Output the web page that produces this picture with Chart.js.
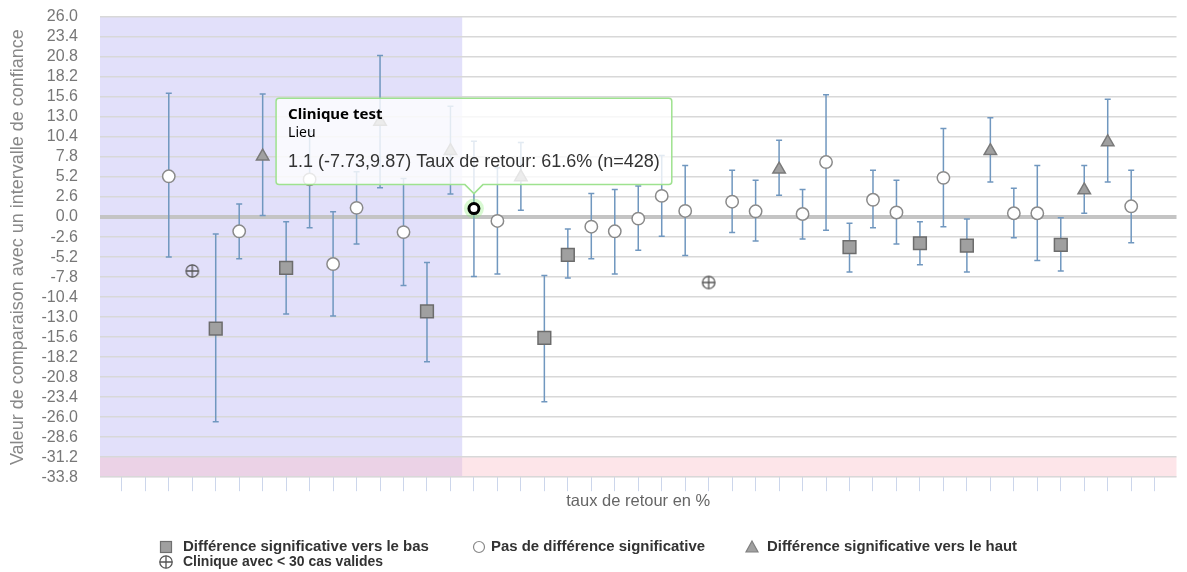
<!DOCTYPE html>
<html>
<head>
<meta charset="utf-8">
<script src="https://cdn.jsdelivr.net/npm/chart.js@4/dist/chart.umd.min.js"></script>
<style>
  body { margin: 0; background: #fff; }
  #wrap { width: 1187px; height: 572px; position: relative; }
</style>
</head>
<body>
<div id="wrap"><canvas id="chart-comparaison"></canvas></div>
<script>
// Valeurs de comparaison par clinique (position = rang sur l'axe du taux de retour)
const values = [null, null, 5.3, -7.0, -14.5, -1.85, 7.9, -6.6, 4.9, -6.1, 1.2, 12.4, -1.95, -12.25, 8.6,
  1.1, -0.5, 5.2, -15.7, -4.9, -1.25, -1.85, -0.2, 2.75, 0.8, -8.5, 2.0, 0.75, 6.2, 0.4, 7.15,
  -3.9, 2.25, 0.6, -3.4, 5.1, -3.7, 8.6, 0.5, 0.5, -3.6, 3.5, 9.75, 1.4, null];
const lower = [null, null, -5.2, null, -26.6, -5.4, 0.2, -12.6, -1.4, -12.85, -3.5, 3.8, -8.9, -18.8, 3.0,
  -7.73, -7.4, 0.9, -24.0, -7.9, -5.4, -7.4, -4.3, -2.5, -5.0, null, -2.0, -3.1, 2.85, -2.85, -1.7,
  -7.15, -1.4, -3.5, -6.2, -1.25, -7.15, 4.55, -2.7, -5.65, -7.0, 0.5, 4.55, -3.35, null];
const upper = [null, null, 16.1, null, -2.2, 1.7, 16.0, -0.6, 11.2, 0.7, 5.9, 21.0, 5.0, -5.9, 14.4,
  9.87, 6.4, 9.7, -7.6, -1.55, 3.05, 3.6, 4.05, 8.0, 6.7, null, 6.1, 4.8, 10.0, 3.6, 15.9,
  -0.8, 6.1, 4.8, -0.6, 11.5, -0.25, 12.9, 3.75, 6.7, -0.1, 6.7, 15.3, 6.1, null];
// b = vers le bas, n = pas de différence, h = vers le haut, c = < 30 cas
const groups = ['', '', 'n', 'c', 'b', 'n', 'h', 'b', 'n', 'n', 'n', 'h', 'n', 'b', 'h',
  'n', 'n', 'h', 'b', 'b', 'n', 'n', 'n', 'n', 'n', 'c', 'n', 'n', 'h', 'n', 'n',
  'b', 'n', 'n', 'b', 'n', 'b', 'h', 'n', 'n', 'b', 'h', 'h', 'n', ''];
const yTicks = [-33.8, -31.2, -28.6, -26.0, -23.4, -20.8, -18.2, -15.6, -13.0, -10.4, -7.8, -5.2, -2.6,
  0.0, 2.6, 5.2, 7.8, 10.4, 13.0, 15.6, 18.2, 20.8, 23.4, 26.0];
const xTicks = [0, 1, 2, 3, 4, 5, 6, 7, 8, 9, 10, 11, 12, 13, 14, 15, 16, 17, 18, 19, 20, 21, 22,
  23, 24, 25, 26, 27, 28, 29, 30, 31, 32, 33, 34, 35, 36, 37, 38, 39, 40, 41, 42, 43, 44];
const bandeRouge = [-33.8, -31.2];
const zoneGauche = 14.5;

const testIndex = 15;
const testTitre = 'Clinique test';
const testLieu = 'Lieu';
const testTexte = '1.1 (-7.73,9.87) Taux de retour: 61.6% (n=428)';

const legendItems = [
  { code: 'b', label: 'Différence significative vers le bas' },
  { code: 'n', label: 'Pas de différence significative' },
  { code: 'h', label: 'Différence significative vers le haut' },
  { code: 'c', label: 'Clinique avec < 30 cas valides' }
];

Chart.defaults.font.family = "'Liberation Sans', Arial, sans-serif";

function croixCercle() {
  const c = document.createElement('canvas');
  c.width = 16; c.height = 16;
  const g = c.getContext('2d');
  g.strokeStyle = '#555';
  g.lineWidth = 1.3;
  g.beginPath(); g.arc(8, 8, 6.2, 0, Math.PI * 2); g.stroke();
  g.beginPath(); g.moveTo(1.8, 8); g.lineTo(14.2, 8); g.moveTo(8, 1.8); g.lineTo(8, 14.2); g.stroke();
  return c;
}
const croix = croixCercle();

function pointsDe(code) {
  const pts = [];
  values.forEach((v, i) => { if (groups[i] === code) pts.push({ x: i, y: v }); });
  return pts;
}

const fondPlugin = {
  id: 'fond',
  beforeDraw(chart) {
    const { ctx, chartArea: a, scales: { x, y } } = chart;
    ctx.save();
    const xz = x.getPixelForValue(zoneGauche);
    ctx.fillStyle = '#e2e0fa';
    ctx.fillRect(a.left, a.top, xz - a.left, a.bottom - a.top);
    const y1 = y.getPixelForValue(bandeRouge[1]);
    const y0 = y.getPixelForValue(bandeRouge[0]);
    ctx.fillStyle = 'rgba(250,190,200,0.4)';
    ctx.fillRect(a.left, y1, a.right - a.left, y0 - y1);
    ctx.restore();
  }
};

const barresPlugin = {
  id: 'barres',
  beforeDatasetsDraw(chart) {
    const { ctx, scales: { x, y } } = chart;
    ctx.save();
    ctx.strokeStyle = '#7097bf';
    ctx.lineWidth = 1.5;
    values.forEach((v, i) => {
      if (lower[i] == null || upper[i] == null) return;
      const px = x.getPixelForValue(i);
      const yl = y.getPixelForValue(lower[i]);
      const yh = y.getPixelForValue(upper[i]);
      ctx.beginPath();
      ctx.moveTo(px, yl); ctx.lineTo(px, yh);
      ctx.moveTo(px - 3, yl); ctx.lineTo(px + 3, yl);
      ctx.moveTo(px - 3, yh); ctx.lineTo(px + 3, yh);
      ctx.stroke();
    });
    // halo autour du point actif
    chart.getActiveElements().forEach(a => {
      ctx.fillStyle = 'rgba(144,237,125,0.35)';
      ctx.beginPath();
      ctx.arc(a.element.x, a.element.y, 10, 0, Math.PI * 2);
      ctx.fill();
    });
    ctx.restore();
  }
};

const legendePlugin = {
  id: 'legende',
  afterDraw(chart) {
    const ctx = chart.ctx;
    // positions des symboles / textes, largeur du texte
    const places = [[166, 547, 183, 247], [479, 547, 491, 214], [752, 547, 767, 250], [166, 562, 183, 200]];
    ctx.save();
    ctx.font = "bold 15px 'Liberation Sans', Arial, sans-serif";
    ctx.textBaseline = 'middle';
    legendItems.forEach((item, i) => {
      const [sx, sy, tx, w] = places[i];
      ctx.lineWidth = 1.2;
      if (item.code === 'b') {
        ctx.fillStyle = '#a0a0a0'; ctx.strokeStyle = '#707070';
        ctx.fillRect(sx - 5.5, sy - 5.5, 11, 11); ctx.strokeRect(sx - 5.5, sy - 5.5, 11, 11);
      } else if (item.code === 'n') {
        ctx.fillStyle = '#fff'; ctx.strokeStyle = '#888';
        ctx.beginPath(); ctx.arc(sx, sy, 5.5, 0, Math.PI * 2); ctx.fill(); ctx.stroke();
      } else if (item.code === 'h') {
        ctx.fillStyle = '#a0a0a0'; ctx.strokeStyle = '#808080';
        ctx.beginPath(); ctx.moveTo(sx, sy - 6); ctx.lineTo(sx + 6, sy + 5); ctx.lineTo(sx - 6, sy + 5); ctx.closePath();
        ctx.fill(); ctx.stroke();
      } else {
        ctx.drawImage(croix, sx - 8, sy - 8);
      }
      ctx.fillStyle = '#333';
      ctx.fillText(item.label, tx, sy, w);
    });
    ctx.restore();
  }
};

const chart = new Chart(document.getElementById('chart-comparaison'), {
  type: 'scatter',
  data: {
    datasets: [
      {
        label: legendItems[0].label, data: pointsDe('b'),
        pointStyle: 'rect', pointRadius: 9, pointBorderWidth: 1.5,
        pointBackgroundColor: '#a0a0a0', pointBorderColor: '#6c6c6c'
      },
      {
        label: legendItems[1].label, data: pointsDe('n'),
        pointStyle: 'circle', pointRadius: 6.2, pointBorderWidth: 1.5,
        pointBackgroundColor: '#fff', pointBorderColor: '#8a8a8a',
        pointHoverRadius: 5, pointHoverBorderWidth: 3,
        pointHoverBorderColor: '#000', pointHoverBackgroundColor: '#fff'
      },
      {
        label: legendItems[2].label, data: pointsDe('h'),
        pointStyle: 'triangle', pointRadius: 7.2, pointBorderWidth: 1.5,
        pointBackgroundColor: '#a0a0a0', pointBorderColor: '#7a7a7a'
      },
      {
        label: legendItems[3].label, data: pointsDe('c'),
        pointStyle: croix, pointRadius: 7
      }
    ]
  },
  options: {
    responsive: true,
    maintainAspectRatio: false,
    animation: false,
    events: [],
    layout: { padding: { top: 17, right: 7, bottom: 61, left: 0 } },
    scales: {
      x: {
        type: 'linear',
        min: -0.93,
        max: 44.93,
        afterBuildTicks: axis => { axis.ticks = xTicks.map(v => ({ value: v })); },
        ticks: { display: false },
        grid: { drawOnChartArea: false, drawTicks: true, tickLength: 14, color: '#ccd6eb', lineWidth: 1 },
        border: { display: false },
        title: { display: true, text: 'taux de retour en %', color: '#666', font: { size: 16.5 }, padding: { top: 0, bottom: 0 } }
      },
      y: {
        min: -33.8,
        max: 26.0,
        afterBuildTicks: axis => { axis.ticks = yTicks.map(v => ({ value: v })); },
        afterFit: scale => { scale.width = 100; },
        ticks: { color: '#777', font: { size: 16 }, padding: 0, autoSkip: false, callback: v => v.toFixed(1) },
        grid: {
          drawTicks: true,
          tickLength: 22,
          tickColor: 'rgba(0,0,0,0)',
          color: ctx => ctx.tick && ctx.tick.value === 0 ? '#c4c4c4' : '#d8d8d8',
          lineWidth: ctx => ctx.tick && ctx.tick.value === 0 ? 4 : 1.5
        },
        border: { display: false },
        title: { display: true, text: 'Valeur de comparaison avec un intervalle de confiance', color: '#888', font: { size: 18 }, padding: { top: 7, bottom: 0 } }
      }
    },
    plugins: {
      legend: { display: false },
      tooltip: {
        enabled: true,
        backgroundColor: 'rgba(255,255,255,0.8)',
        borderColor: '#9ee28f',
        borderWidth: 1.5,
        cornerRadius: 3,
        caretSize: 9,
        caretPadding: 15,
        xAlign: 'center',
        yAlign: 'bottom',
        displayColors: false,
        padding: { top: 8, bottom: 12, left: 12, right: 12 },
        titleColor: '#000',
        titleFont: { family: "'Noto Sans', sans-serif", size: 15, weight: 'bold' },
        titleMarginBottom: 0,
        bodyColor: '#000',
        bodyFont: { family: "'Noto Sans', sans-serif", size: 14 },
        footerColor: '#333',
        footerFont: { size: 18, weight: 'normal' },
        footerMarginTop: 10,
        callbacks: {
          title: () => testTitre,
          label: () => testLieu,
          footer: () => testTexte
        }
      }
    }
  },
  plugins: [fondPlugin, barresPlugin, legendePlugin]
});

// Afficher l'infobulle de la clinique test
const actif = chart.data.datasets[1].data.findIndex(p => p.x === testIndex);
chart.setActiveElements([{ datasetIndex: 1, index: actif }]);
chart.tooltip.setActiveElements([{ datasetIndex: 1, index: actif }], { x: 0, y: 0 });
chart.update();
</script>
</body>
</html>
